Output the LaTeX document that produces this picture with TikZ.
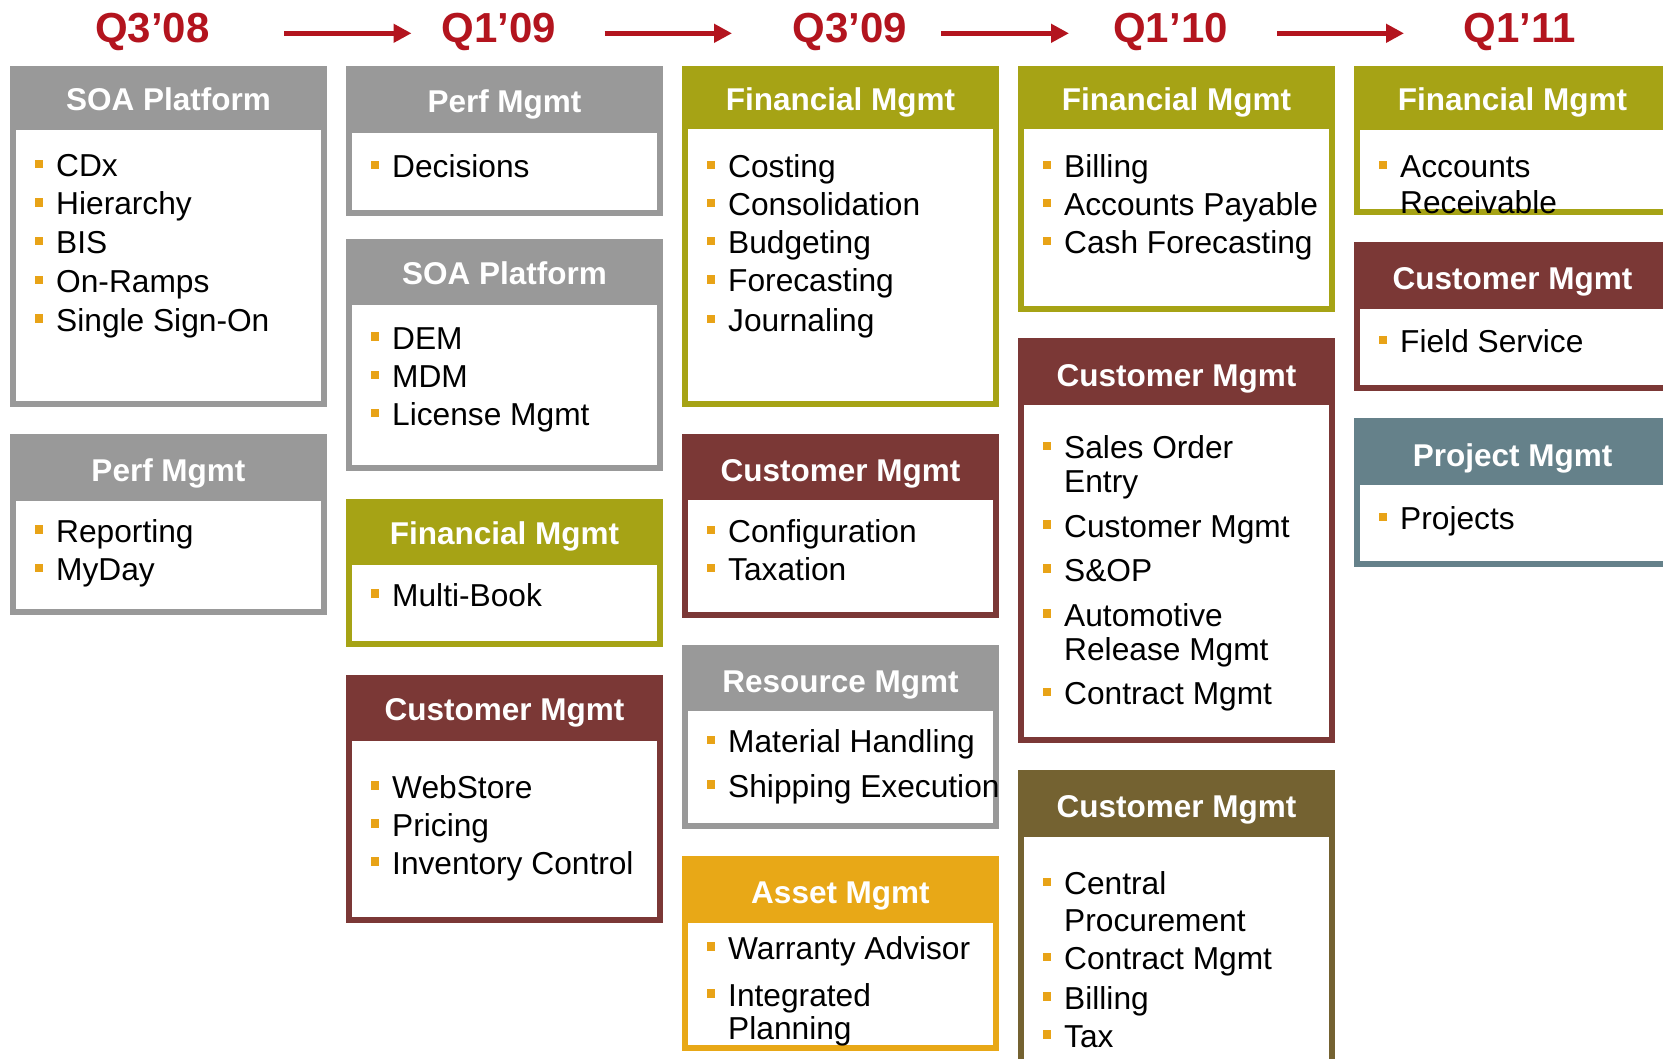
\documentclass[tikz,border=0pt]{standalone}
\usepackage{fontspec}
\setmainfont{Liberation Sans}
\usetikzlibrary{arrows.meta}
\definecolor{cgrey}{HTML}{999999}
\definecolor{colive}{HTML}{A6A315}
\definecolor{cmaroon}{HTML}{7B3836}
\definecolor{cteal}{HTML}{65818A}
\definecolor{corange}{HTML}{E8A817}
\definecolor{cdolive}{HTML}{746231}
\definecolor{cbullet}{HTML}{E8A317}
\definecolor{cred}{HTML}{B3141E}
\tikzset{
  ttl/.style={font=\fontsize{42}{50}\selectfont\bfseries, text=cred, anchor=base, inner sep=0pt},
  hdr/.style={font=\fontsize{31.5}{38}\selectfont\bfseries, text=white, anchor=base, inner sep=0pt},
  itm/.style={font=\fontsize{31.7}{38}\selectfont, text=black, anchor=base west, inner sep=0pt},
  bul/.style={fill=cbullet},
  tlarrow/.style={draw=cred, line width=5.3pt, -{Triangle[length=18pt,width=18pt]}}
}
% box: name, left, top, innertop, bottom, colour, title, title centre y
\newcommand{\pbox}[8]{%
  \fill[#6] (#2,#3) rectangle ({#2+317},#5);
  \fill[white] ({#2+6},#4) rectangle ({#2+311},{#5-6});
  \node[hdr] (#1) at ({#2+158.5},{#8+11}) {#7};
}
% bulleted item: name, left, centre y, text
\newcommand{\bitem}[4]{%
  \fill[bul] ({#2+25},{#3-5.7}) rectangle ({#2+33.3},{#3+2.6});
  \node[itm] (#1) at ({#2+46},{#3+11}) {#4};
}
% continuation line: name, left, centre y, text
\newcommand{\citem}[4]{%
  \node[itm] (#1) at ({#2+46},{#3+11}) {#4};
}
\begin{document}
\begin{tikzpicture}[x=1pt,y=-1pt]
\useasboundingbox (0,0) rectangle (1663,1059);
\clip (0,0) rectangle (1663,1059);
\fill[white] (0,0) rectangle (1663,1059);

% timeline titles
\node[ttl] (t1) at (152.5,43) {Q3’08};
\node[ttl] (t2) at (499,43) {Q1’09};
\node[ttl] (t3) at (850,43) {Q3’09};
\node[ttl] (t4) at (1170.5,43) {Q1’10};
\node[ttl] (t5) at (1520,43) {Q1’11};
\coordinate (a1) at (284,33.3);   \coordinate (b1) at (411.5,33.3);
\coordinate (a2) at (604.5,33.3); \coordinate (b2) at (732,33.3);
\coordinate (a3) at (941,33.3);   \coordinate (b3) at (1069,33.3);
\coordinate (a4) at (1277,33.3);  \coordinate (b4) at (1404,33.3);
\draw[tlarrow] (a1) -- (b1);
\draw[tlarrow] (a2) -- (b2);
\draw[tlarrow] (a3) -- (b3);
\draw[tlarrow] (a4) -- (b4);

% ---------- column 1 ----------
\pbox{c1a}{10}{66}{130}{407}{cgrey}{SOA Platform}{100}
\bitem{c1a1}{10}{165.5}{CDx}
\bitem{c1a2}{10}{204}{Hierarchy}
\bitem{c1a3}{10}{242.5}{BIS}
\bitem{c1a4}{10}{281.5}{On-Ramps}
\bitem{c1a5}{10}{320}{Single Sign-On}

\pbox{c1b}{10}{434}{500.6}{615}{cgrey}{Perf Mgmt}{470}
\bitem{c1b1}{10}{531}{Reporting}
\bitem{c1b2}{10}{569.5}{MyDay}

% ---------- column 2 ----------
\pbox{c2a}{346}{66}{133}{216}{cgrey}{Perf Mgmt}{102}
\bitem{c2a1}{346}{166.5}{Decisions}

\pbox{c2b}{346}{239}{305}{471}{cgrey}{SOA Platform}{273.6}
\bitem{c2b1}{346}{338}{DEM}
\bitem{c2b2}{346}{376.5}{MDM}
\bitem{c2b3}{346}{414.7}{License Mgmt}

\pbox{c2c}{346}{498.5}{565}{647}{colive}{Financial Mgmt}{533.5}
\bitem{c2c1}{346}{595}{Multi-Book}

\pbox{c2d}{346}{674.5}{741}{922.7}{cmaroon}{Customer Mgmt}{709.5}
\bitem{c2d1}{346}{787}{WebStore}
\bitem{c2d2}{346}{825}{Pricing}
\bitem{c2d3}{346}{863}{Inventory Control}

% ---------- column 3 ----------
\pbox{c3a}{682}{66}{129.4}{407}{colive}{Financial Mgmt}{99.7}
\bitem{c3a1}{682}{166.5}{Costing}
\bitem{c3a2}{682}{204.7}{Consolidation}
\bitem{c3a3}{682}{242.9}{Budgeting}
\bitem{c3a4}{682}{281}{Forecasting}
\bitem{c3a5}{682}{320.3}{Journaling}

\pbox{c3b}{682}{434}{499.5}{618.3}{cmaroon}{Customer Mgmt}{470}
\bitem{c3b1}{682}{531.4}{Configuration}
\bitem{c3b2}{682}{569.5}{Taxation}

\pbox{c3c}{682}{644.8}{710.6}{829.4}{cgrey}{Resource Mgmt}{681}
\bitem{c3c1}{682}{741.4}{Material Handling}
\bitem{c3c2}{682}{786}{Shipping Execution}

\pbox{c3d}{682}{856}{923}{1051}{corange}{Asset Mgmt}{892.5}
\bitem{c3d1}{682}{948}{Warranty Advisor}
\bitem{c3d2}{682}{995}{Integrated}
\citem{c3d2b}{682}{1028}{Planning}

% ---------- column 4 ----------
\pbox{c4a}{1018}{66}{129.4}{311.8}{colive}{Financial Mgmt}{100}
\bitem{c4a1}{1018}{166.5}{Billing}
\bitem{c4a2}{1018}{204.7}{Accounts Payable}
\bitem{c4a3}{1018}{242.9}{Cash Forecasting}

\pbox{c4b}{1018}{338.3}{405}{743}{cmaroon}{Customer Mgmt}{375}
\bitem{c4b1}{1018}{447.3}{Sales Order}
\citem{c4b1b}{1018}{481.7}{Entry}
\bitem{c4b2}{1018}{526}{Customer Mgmt}
\bitem{c4b3}{1018}{570}{S\&OP}
\bitem{c4b4}{1018}{615}{Automotive}
\citem{c4b4b}{1018}{649}{Release Mgmt}
\bitem{c4b5}{1018}{693.3}{Contract Mgmt}

\pbox{c4c}{1018}{770}{836.7}{1075}{cdolive}{Customer Mgmt}{806}
\bitem{c4c1}{1018}{883.5}{Central}
\citem{c4c1b}{1018}{920.6}{Procurement}
\bitem{c4c2}{1018}{958.8}{Contract Mgmt}
\bitem{c4c3}{1018}{998}{Billing}
\bitem{c4c4}{1018}{1036}{Tax}

% ---------- column 5 ----------
\pbox{c5a}{1354}{66}{130}{215}{colive}{Financial Mgmt}{100}
\bitem{c5a1}{1354}{166.5}{Accounts}
\citem{c5a1b}{1354}{202.8}{Receivable}

\pbox{c5b}{1354}{242}{309}{391}{cmaroon}{Customer Mgmt}{278.6}
\bitem{c5b1}{1354}{341.7}{Field Service}

\pbox{c5c}{1354}{418}{485}{567}{cteal}{Project Mgmt}{455.4}
\bitem{c5c1}{1354}{518.6}{Projects}
\end{tikzpicture}
\end{document}
